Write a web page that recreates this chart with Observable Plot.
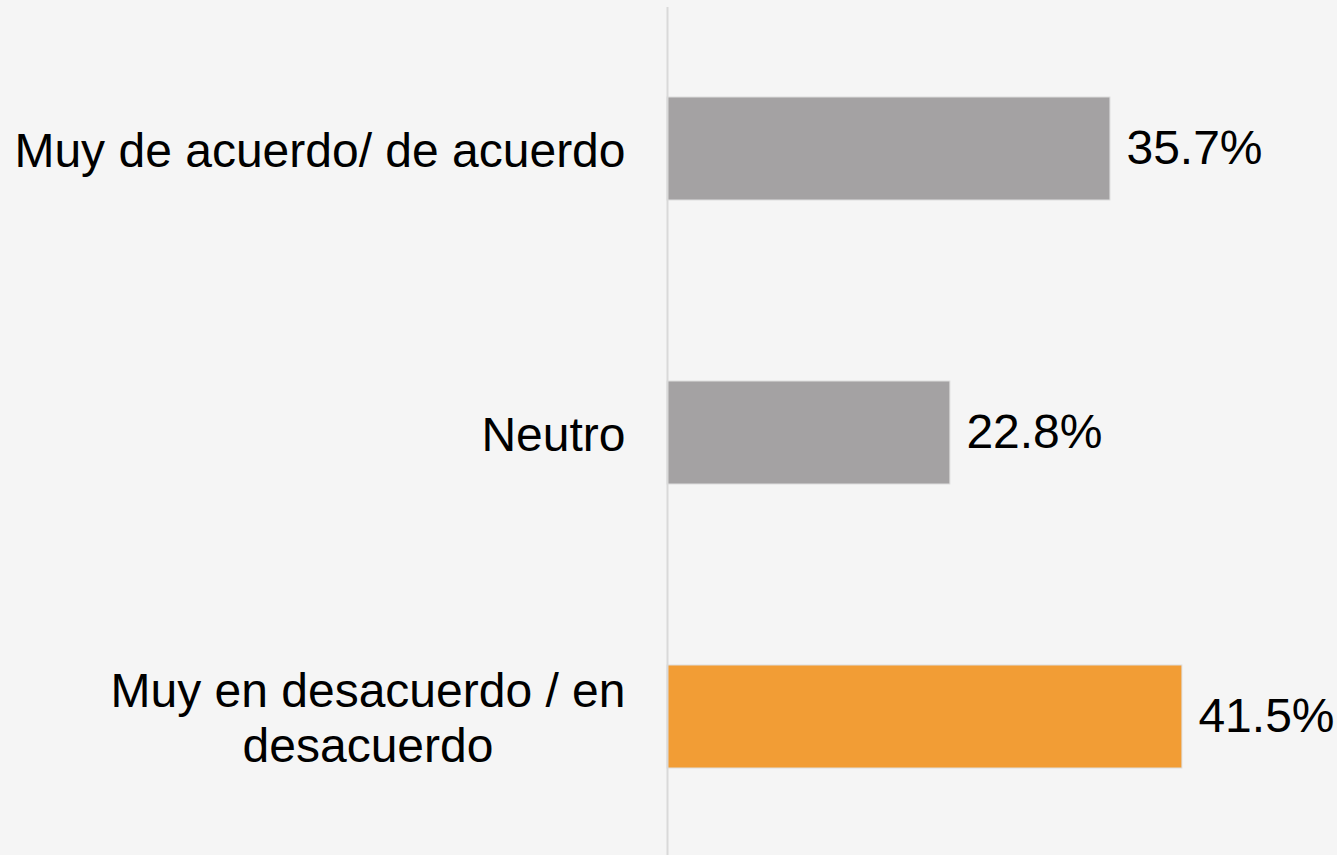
<!DOCTYPE html>
<html>
<head>
<meta charset="utf-8">
<script src="https://cdn.jsdelivr.net/npm/d3@7"></script>
<script src="https://cdn.jsdelivr.net/npm/@observablehq/plot@0.6"></script>
<style>
  html, body { margin: 0; padding: 0; background: #f5f5f5; }
  #chart svg { display: block; }
</style>
</head>
<body>
<div id="chart"></div>
<script>
const categories = ["Muy de acuerdo/ de acuerdo", "Neutro", "Muy en desacuerdo / en\ndesacuerdo"];
const values = [35.7, 22.8, 41.5];
const colors = ["#a4a2a3", "#a4a2a3", "#f29d35"];
const valueLabels = ["35.7%", "22.8%", "41.5%"];

const data = categories.map((c, i) => ({cat: c, value: values[i], color: colors[i], label: valueLabels[i]}));

const chart = Plot.plot({
  width: 1337,
  height: 855,
  marginLeft: 667,
  marginRight: 0,
  marginTop: 10,
  marginBottom: 0,
  style: {background: "#f5f5f5", fontFamily: "'Liberation Sans', Arial, sans-serif", fontSize: "48px", color: "#000"},
  x: {domain: [0, 54], axis: null},
  y: {domain: categories, paddingInner: 0.637, paddingOuter: 0.3045, label: null},
  marks: [
    Plot.barX(data, {x: "value", y: "cat", fill: "color", stroke: "#dedede", strokeWidth: 1}),
    Plot.ruleX([0], {stroke: "#d9d9d9", strokeWidth: 2, insetTop: -3}),
    Plot.text(data, {x: "value", y: "cat", text: "label", textAnchor: "start", dx: 16, fill: "#000", fontSize: 48}),
    Plot.axisY({tickSize: 0, tickPadding: 42, fontSize: 48, lineHeight: 1.15, fill: "#000", label: null})
  ]
});
document.getElementById("chart").appendChild(chart);

// Center multi-line category labels within their right-aligned block
chart.querySelectorAll("text").forEach(t => {
  const spans = t.querySelectorAll("tspan");
  if (spans.length > 1) {
    let w = 0;
    spans.forEach(s => { w = Math.max(w, s.getComputedTextLength()); });
    t.setAttribute("text-anchor", "middle");
    spans.forEach(s => s.setAttribute("x", -w / 2));
  }
});
</script>
</body>
</html>
